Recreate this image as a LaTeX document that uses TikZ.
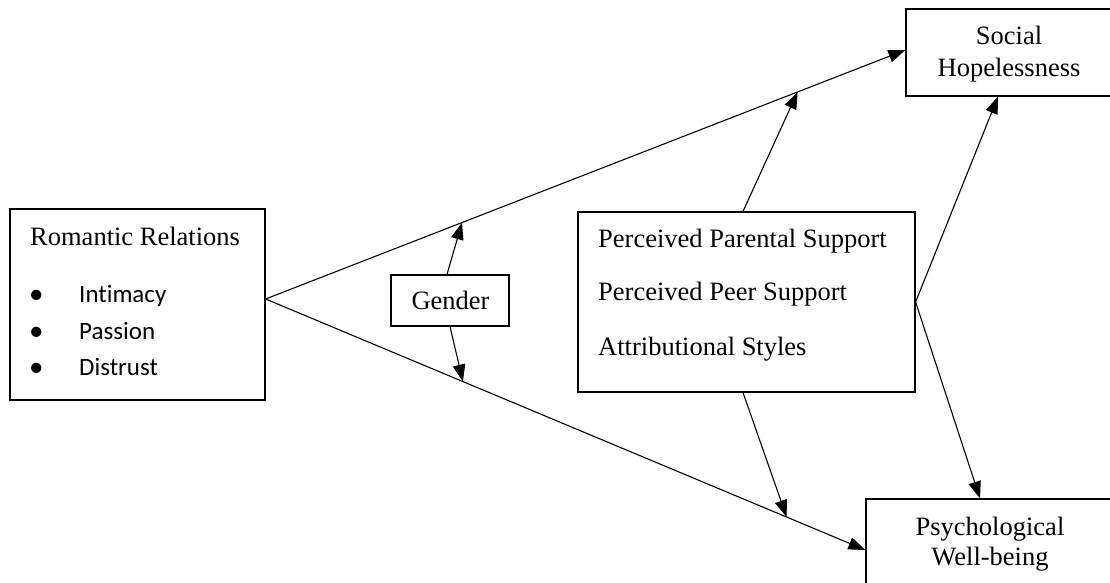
\documentclass[tikz,border=0pt]{standalone}
\usepackage{fontspec}
\setmainfont{Liberation Serif}
\newfontfamily\listfont[Ligatures=NoCommon]{Carlito}
\usetikzlibrary{arrows.meta,calc}

\begin{document}
\begin{tikzpicture}[x=1pt,y=-1pt,
  box/.style={draw,line width=1.2pt,rectangle,inner sep=0pt,anchor=center},
  lbl/.style={inner sep=0pt,font=\fontsize{26.5}{31}\selectfont},
  item/.style={inner sep=0pt,anchor=base west,font=\listfont\fontsize{25}{30}\selectfont},
  dot/.style={inner sep=0pt,anchor=base west,font=\listfont\fontsize{29}{30}\selectfont},
  link/.style={line width=1.1pt,-{Triangle[length=17pt,width=12.5pt]}}]
\useasboundingbox (0,0) rectangle (1110,583);
\clip (0,0) rectangle (1110,583);

% boxes
\node[box,minimum width=255pt,minimum height=191pt] (rom) at (137.5,304.5) {};
\node[box,minimum width=118pt,minimum height=51pt] (gen) at (450,300.5) {};
\node[box,minimum width=337pt,minimum height=180pt] (fac) at (746.5,302) {};
\node[box,minimum width=206pt,minimum height=87pt] (soc) at (1009,52.5) {};
\node[box,minimum width=248pt,minimum height=87pt] (psy) at (990,542.5) {};

% texts
\node[lbl,anchor=base west] (romt) at (30,245) {Romantic Relations};
\node[dot] (b1) at (29,303) {\textbullet};
\node[dot] (b2) at (29,340) {\textbullet};
\node[dot] (b3) at (29,376) {\textbullet};
\node[item] (i1) at (79,302) {Intimacy};
\node[item] (i2) at (79,339) {Passion};
\node[item] (i3) at (79,375) {Distrust};
\node[lbl,anchor=base] (gent) at (450.5,309) {Gender};
\node[lbl,anchor=base west] (f1) at (598,247) {Perceived Parental Support};
\node[lbl,anchor=base west] (f2) at (598,300) {Perceived Peer Support};
\node[lbl,anchor=base west] (f3) at (598,355) {Attributional Styles};
\node[lbl,anchor=base] (s1) at (1009,45) {Social};
\node[lbl,anchor=base] (s2) at (1009,77) {Hopelessness};
\node[lbl,anchor=base] (p1) at (990,535) {Psychological};
\node[lbl,anchor=base] (p2) at (990,565) {Well-being};

% connector end points
\coordinate (romj) at ([yshift=5.5pt]rom.east);
\coordinate (socw) at ([yshift=2.5pt]soc.west);
\coordinate (psyw) at ([yshift=-7.5pt]psy.west);
\coordinate (socs) at ([xshift=-11pt]soc.south);
\coordinate (psyn) at ([xshift=-10pt]psy.north);
\coordinate (genn) at ([xshift=-3pt]gen.north);
\coordinate (facn) at ([xshift=-3.5pt]fac.north);
\coordinate (facs) at ([xshift=-3.5pt]fac.south);
\coordinate (up1) at ($(romj)!0.307!(socw)$);
\coordinate (up2) at ($(romj)!0.8315!(socw)$);
\coordinate (dn1) at ($(romj)!0.329!(psyw)$);
\coordinate (dn2) at ($(romj)!0.8686!(psyw)$);

% paths
\draw[link] (romj) -- (socw);
\draw[link] (romj) -- (psyw);
\draw[link] (genn) -- (up1);
\draw[link] (gen.south) -- (dn1);
\draw[link] (facn) -- (up2);
\draw[link] (facs) -- (dn2);
\draw[link] (fac.east) -- (socs);
\draw[link] (fac.east) -- (psyn);
\end{tikzpicture}
\end{document}
